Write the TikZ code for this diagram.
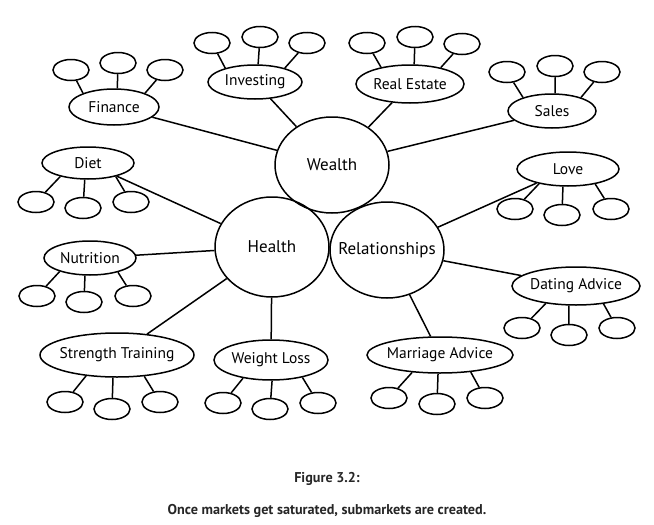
\documentclass[tikz,border=0pt]{standalone}
\usepackage{fontspec}
\setmainfont{PT Sans}
\usetikzlibrary{shapes.geometric}

\begin{document}
\begin{tikzpicture}[x=1pt,y=-1pt,line width=1.5pt,
  hub/.style={draw,ellipse,inner sep=0pt,label={[font=\fontsize{17}{19}\selectfont]center:#1}},
  sub/.style={draw,ellipse,inner sep=0pt,label={[font=\fontsize{15.5}{17}\selectfont]center:#1}},
  leaf/.style={draw,ellipse,minimum width=36pt,minimum height=21pt,inner sep=0pt}]

\useasboundingbox (0,0) rectangle (654,525);

% hubs
\node[hub=Wealth,minimum width=114pt,minimum height=96pt] (wea) at (332,165) {};
\node[hub=Health,minimum width=114pt,minimum height=100pt] (hea) at (272,247) {};
\node[hub=Relationships,minimum width=114pt,minimum height=96pt] (rel) at (387,250) {};

% wealth
\node[sub=Finance,minimum width=90pt,minimum height=36pt] (fin) at (114,107) {};
\node[sub=Investing,minimum width=94pt,minimum height=34pt] (inv) at (255,82) {};
\node[sub=Real Estate,minimum width=108pt,minimum height=38pt] (res) at (410,84) {};
\node[sub=Sales,minimum width=88pt,minimum height=34pt] (sal) at (552,111) {};

% health
\node[sub=Diet,minimum width=92pt,minimum height=32pt] (die) at (88,163) {};
\node[sub=Nutrition,minimum width=92pt,minimum height=34pt] (nut) at (90,258) {};
\node[sub=Strength Training,minimum width=154pt,minimum height=44pt] (str) at (117,355) {};
\node[sub=Weight Loss,minimum width=114pt,minimum height=40pt] (wlo) at (271,360) {};

% relationships
\node[sub=Love,minimum width=102pt,minimum height=34pt] (lov) at (568,169) {};
\node[sub=Dating Advice,minimum width=128pt,minimum height=38pt] (dat) at (576,286) {};
\node[sub=Marriage Advice,minimum width=146pt,minimum height=36pt] (mar) at (440,355) {};

\foreach \s in {fin,inv,res,sal} \draw (\s) -- (wea);
\foreach \s in {die,nut,str,wlo} \draw (\s) -- (hea);
\foreach \s in {lov,dat,mar} \draw (\s) -- (rel);

% leaves
\foreach \p/\a [count=\i] in {(71,70)/156,(118,63)/80,(165,70)/24}
  \node[leaf] (fin\i) at \p {} edge (fin.\a);
\foreach \p/\a [count=\i] in {(212,43)/155,(260,37)/80,(307,43)/25}
  \node[leaf] (inv\i) at \p {} edge (inv.\a);
\foreach \p/\a [count=\i] in {(367,43)/150,(415,37)/78,(462,44)/28}
  \node[leaf] (res\i) at \p {} edge (res.\a);
\foreach \p/\a [count=\i] in {(507,72)/155,(555,66)/80,(602,72)/25}
  \node[leaf] (sal\i) at \p {} edge (sal.\a);
\foreach \p/\a [count=\i] in {(36,202)/206,(83,208)/259,(131,202)/334}
  \node[leaf] (die\i) at \p {} edge (die.\a);
\foreach \p/\a [count=\i] in {(37,296)/204,(84,302)/254,(133,296)/333}
  \node[leaf] (nut\i) at \p {} edge (nut.\a);
\foreach \p/\a [count=\i] in {(65,402)/214,(112,409)/260,(160,402)/322}
  \node[leaf] (str\i) at \p {} edge (str.\a);
\foreach \p/\a [count=\i] in {(223,403)/213,(270,409)/273,(318,403)/331}
  \node[leaf] (wlo\i) at \p {} edge (wlo.\a);
\foreach \p/\a [count=\i] in {(515,209)/207,(562,215)/254,(611,209)/331}
  \node[leaf] (lov\i) at \p {} edge (lov.\a);
\foreach \p/\a [count=\i] in {(522,328)/210,(569,335)/250,(617,328)/327}
  \node[leaf] (dat\i) at \p {} edge (dat.\a);
\foreach \p/\a [count=\i] in {(389,398)/212,(437,404)/264,(485,398)/331}
  \node[leaf] (mar\i) at \p {} edge (mar.\a);

% caption
\node[font=\bfseries\fontsize{14.2}{16}\selectfont,text=black!85] (fig) at (327,479) {Figure 3.2:};
\node[font=\bfseries\fontsize{14.2}{16}\selectfont,text=black!85] (cap) at (327,511) {Once markets get saturated, submarkets are created.};

\end{tikzpicture}
\end{document}
